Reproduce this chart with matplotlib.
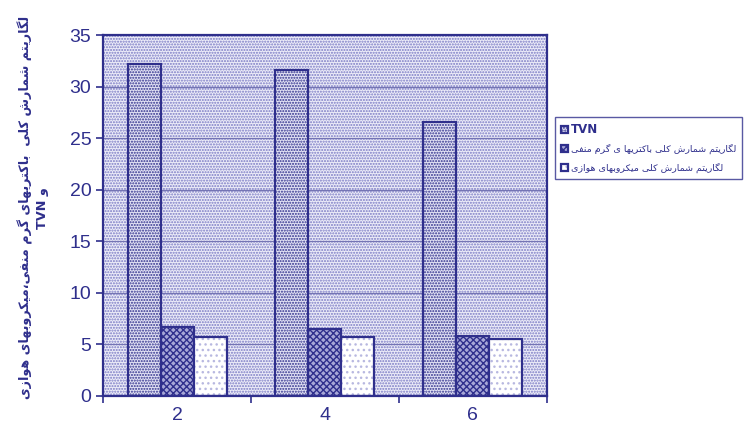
import re
import matplotlib
matplotlib.use("Agg")
import matplotlib.pyplot as plt
from matplotlib.patches import Rectangle
import numpy as np

# --- data ---------------------------------------------------------------
days = ["2", "4", "6"]
tvn = [32.2, 31.6, 26.6]
gram_negative = [6.7, 6.5, 5.8]
aerobic = [5.7, 5.7, 5.5]

series_labels = [
    "TVN",
    "لگاریتم شمارش کلی باکتریها ی گرم منفی",
    "لگاریتم شمارش کلی میکروبهای هوازی",
]
ylabel_lines = [
    "لگاریتم شمارش کلی  باکتریهای گرم منفی،میکروبهای هوازی",
    "و TVN",
]

NAVY = "#2f2f8c"

# --- minimal arabic/persian shaping (matplotlib has no complex layout) ---
# char: (isolated, final, initial, medial); right-joining letters have 2 forms
FORMS = {
    "ا": (0xFE8D, 0xFE8E), "ب": (0xFE8F, 0xFE90, 0xFE91, 0xFE92),
    "پ": (0xFB56, 0xFB57, 0xFB58, 0xFB59), "ت": (0xFE95, 0xFE96, 0xFE97, 0xFE98),
    "ث": (0xFE99, 0xFE9A, 0xFE9B, 0xFE9C), "ج": (0xFE9D, 0xFE9E, 0xFE9F, 0xFEA0),
    "چ": (0xFB7A, 0xFB7B, 0xFB7C, 0xFB7D), "ح": (0xFEA1, 0xFEA2, 0xFEA3, 0xFEA4),
    "خ": (0xFEA5, 0xFEA6, 0xFEA7, 0xFEA8), "د": (0xFEA9, 0xFEAA),
    "ذ": (0xFEAB, 0xFEAC), "ر": (0xFEAD, 0xFEAE), "ز": (0xFEAF, 0xFEB0),
    "ژ": (0xFB8A, 0xFB8B), "س": (0xFEB1, 0xFEB2, 0xFEB3, 0xFEB4),
    "ش": (0xFEB5, 0xFEB6, 0xFEB7, 0xFEB8), "ص": (0xFEB9, 0xFEBA, 0xFEBB, 0xFEBC),
    "ض": (0xFEBD, 0xFEBE, 0xFEBF, 0xFEC0), "ط": (0xFEC1, 0xFEC2, 0xFEC3, 0xFEC4),
    "ظ": (0xFEC5, 0xFEC6, 0xFEC7, 0xFEC8), "ع": (0xFEC9, 0xFECA, 0xFECB, 0xFECC),
    "غ": (0xFECD, 0xFECE, 0xFECF, 0xFED0), "ف": (0xFED1, 0xFED2, 0xFED3, 0xFED4),
    "ق": (0xFED5, 0xFED6, 0xFED7, 0xFED8), "ک": (0xFB8E, 0xFB8F, 0xFB90, 0xFB91),
    "گ": (0xFB92, 0xFB93, 0xFB94, 0xFB95), "ل": (0xFEDD, 0xFEDE, 0xFEDF, 0xFEE0),
    "م": (0xFEE1, 0xFEE2, 0xFEE3, 0xFEE4), "ن": (0xFEE5, 0xFEE6, 0xFEE7, 0xFEE8),
    "و": (0xFEED, 0xFEEE), "ه": (0xFEE9, 0xFEEA, 0xFEEB, 0xFEEC),
    "ی": (0xFBFC, 0xFBFD, 0xFBFE, 0xFBFF),
}


def shape(word):
    out = []
    for i, ch in enumerate(word):
        f = FORMS.get(ch)
        if f is None:
            out.append(ch)
            continue
        prev = word[i - 1] if i > 0 else ""
        nxt = word[i + 1] if i + 1 < len(word) else ""
        pj = prev in FORMS and len(FORMS[prev]) == 4
        nj = len(f) == 4 and nxt in FORMS
        if pj and nj:
            out.append(chr(f[3]))
        elif pj:
            out.append(chr(f[1]))
        elif nj:
            out.append(chr(f[2]))
        else:
            out.append(chr(f[0]))
    return "".join(out)


def rtl(text):
    runs = re.findall(r"[A-Za-z0-9]+|[^A-Za-z0-9]+", text)
    vis = []
    for r in reversed(runs):
        vis.append(r if re.match(r"[A-Za-z0-9]", r) else shape(r)[::-1])
    return "".join(vis)


plt.rcParams["font.family"] = ["Liberation Sans", "DejaVu Sans"]
plt.rcParams["hatch.linewidth"] = 1.0

fig = plt.figure(figsize=(7.47, 4.33), dpi=100)
ax = fig.add_axes([0.138, 0.0855, 0.594, 0.8335])

# dotted plot-area fill
ax.set_facecolor("white")
ax.add_patch(Rectangle((0, 0), 1, 1, transform=ax.transAxes, facecolor="#ececf8",
                       edgecolor="#7a7ac4", hatch="......", lw=0, zorder=0))
for y in range(5, 35, 5):
    ax.axhline(y, color="#7474b4", lw=0.9, zorder=1)

x = np.arange(len(days))
w = 0.223
ax.bar(x - w, tvn, w, facecolor="#e2e2f4", edgecolor=NAVY, hatch="......",
       lw=1.6, zorder=2, label=series_labels[0])
ax.bar(x, gram_negative, w, facecolor="#a8a8d8", edgecolor=NAVY, hatch="xxxxx",
       lw=1.6, zorder=2, label=rtl(series_labels[1]))
ax.bar(x + w, aerobic, w, facecolor="white", edgecolor=NAVY, hatch="...",
       lw=1.6, zorder=2, label=rtl(series_labels[2]))
# softer dots inside the white bars, keep the outline dark
for p in ax.containers[2]:
    p._hatch_color = matplotlib.colors.to_rgba("#b8b8e0")

ax.set_xlim(-0.5, 2.5)
ax.set_ylim(0, 35)
ax.set_yticks(range(0, 36, 5))
ax.set_xticks([-0.5, 0.5, 1.5, 2.5])
ax.set_xticklabels([])
ax.set_xticks(x, minor=True)
ax.set_xticklabels(days, minor=True)
ax.tick_params(axis="x", which="minor", length=0, pad=8)
ax.tick_params(axis="both", which="major", direction="out", length=5,
               color=NAVY, width=1.2)
ax.tick_params(axis="both", which="both", labelsize=14, labelcolor=NAVY)
for s in ax.spines.values():
    s.set_color(NAVY)
    s.set_linewidth(1.6)

fig.text(0.044, 0.52, "\n".join(rtl(t) for t in ylabel_lines), rotation=90,
         ha="center", va="center", fontsize=9.2, fontweight="bold", color=NAVY,
         family=["DejaVu Sans"], linespacing=1.3)

leg = fig.legend(loc="upper left", bbox_to_anchor=(0.743, 0.73),
                 borderaxespad=0, frameon=True, fancybox=False,
                 handlelength=0.8, handleheight=0.8, borderpad=0.6,
                 labelspacing=0.9, handletextpad=0.3,
                 prop={"family": ["DejaVu Sans"], "size": 6.8})
leg.get_frame().set_edgecolor(NAVY)
leg.get_frame().set_linewidth(1.0)
for t in leg.get_texts():
    t.set_color(NAVY)
leg.get_texts()[0].set_fontweight("bold")
leg.get_texts()[0].set_fontsize(8.5)

fig.savefig("out.png", dpi=100)
